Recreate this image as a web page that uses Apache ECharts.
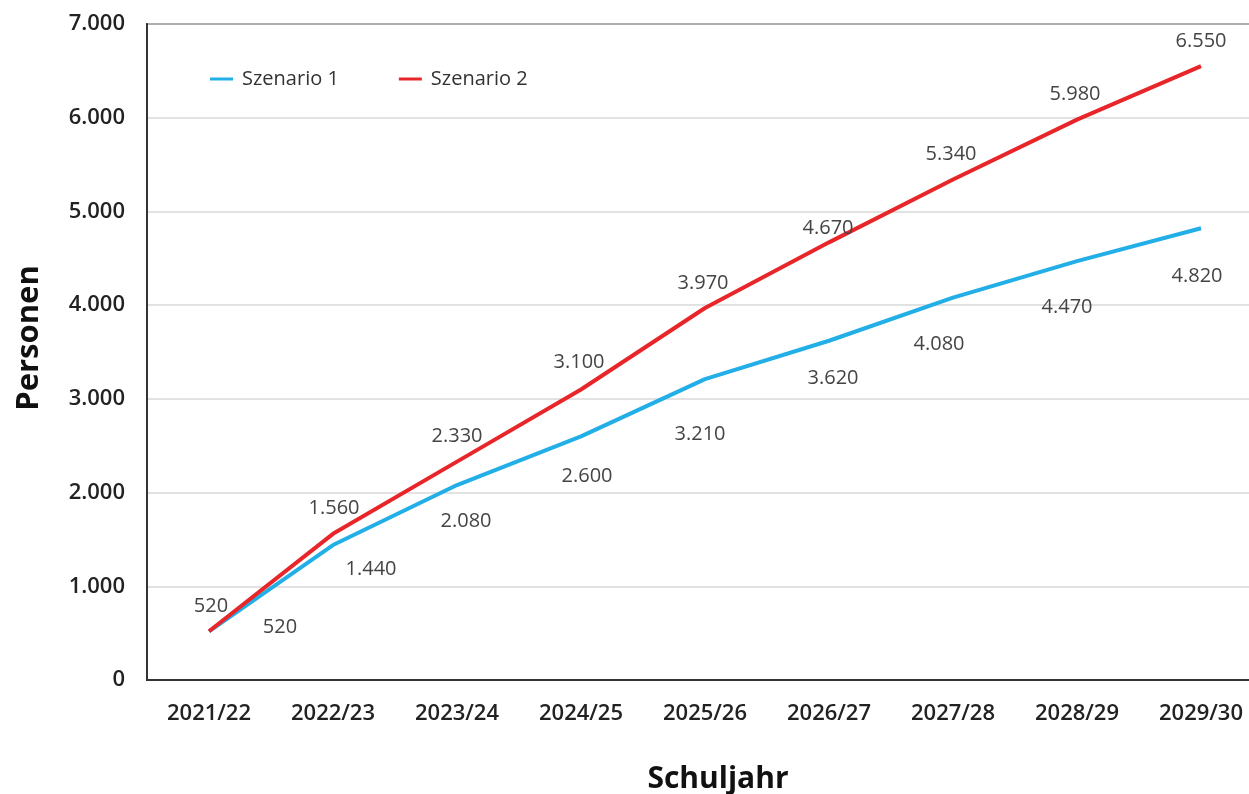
<!DOCTYPE html>
<html>
<head>
<meta charset="utf-8">
<script src="https://cdn.jsdelivr.net/npm/echarts@6/dist/echarts.min.js"></script>
<style>
html, body { margin: 0; padding: 0; background: #fff; }
#chart { width: 1249px; height: 794px; }
</style>
</head>
<body>
<div id="chart"></div>
<script>
let years = ['2021/22','2022/23','2023/24','2024/25','2025/26','2026/27','2027/28','2028/29','2029/30']; // x축 카테고리
let szenario1 = [520,1440,2080,2600,3210,3620,4080,4470,4820];
let szenario2 = [520,1560,2330,3100,3970,4670,5340,5980,6550];
let yTicks = [0,1000,2000,3000,4000,5000,6000,7000];

// 라벨 위치 보정 (원본 차트의 라벨이 손으로 옮겨져 있음)
let shift1 = [[71,-46],[38,-18],[9,-6],[6,-2],[-5,13],[4,-5],[-14,5],[-10,4],[-4,6]];
let shift2 = [[2,0],[1,0],[0,0],[-2,-2],[-2,0],[-1,11],[-2,0],[-2,0],[0,0]];

// 1.440 처럼 점으로 천 단위 구분
function fmt(v) {
	return String(v).replace(/\B(?=(\d{3})+(?!\d))/g, '.');
}

let font = 'Open Sans';

window.onload = function() {
	var myChart = echarts.init(document.getElementById('chart'));
	option = {
		animation: false,
		textStyle: { fontFamily: font },
		legend: {
			left: 205, top: 64,
			itemWidth: 23, itemHeight: 3, itemGap: 60,
			icon: 'rect',
			textStyle: { fontSize: 20, color: '#333', fontFamily: font, padding: [0, 0, 0, 4] },
			data: ['Szenario 1', 'Szenario 2']
		},
		grid: {
			left: 147, width: 1116, top: 24, bottom: 114,
			outerBoundsMode: 'none',
			containLabel: false,
			show: true, borderColor: '#333', borderWidth: 2
		},
		xAxis: {
			type: 'category',
			data: years,
			boundaryGap: true,
			axisTick: { show: false },
			axisLine: { lineStyle: { color: '#333', width: 2 } },
			axisLabel: { margin: 23, fontSize: 22, fontWeight: 600, color: '#222' },
			name: 'Schuljahr',
			nameLocation: 'middle',
			nameGap: 84,
			nameTextStyle: { fontSize: 30, fontWeight: 'bold', color: '#111', padding: [0, 0, 0, 26] }
		},
		yAxis: {
			type: 'value',
			min: yTicks[0],
			max: yTicks[yTicks.length - 1],
			interval: 1000,
			axisLine: { show: true, lineStyle: { color: '#333', width: 2 } },
			axisTick: { show: false },
			splitLine: { lineStyle: { color: '#d9d9d9', width: 1.5 } },
			axisLabel: { margin: 22, fontSize: 22, fontWeight: 600, color: '#222', formatter: fmt },
			name: 'Personen',
			nameLocation: 'middle',
			nameGap: 102,
			nameTextStyle: { fontSize: 31, fontWeight: 'bold', color: '#111', padding: [0, 0, 0, 28] }
		},
		series: [
			{
				name: 'Szenario 1',
				type: 'line',
				data: szenario1.map(function (v, i) {
					return { value: v, label: { offset: shift1[i] } };
				}),
				color: '#22aee6',
				lineStyle: { width: 4 },
				symbol: 'circle',
				symbolSize: 0.1,
				label: {
					show: true, position: 'bottom', distance: 32,
					fontSize: 20, color: '#444',
					formatter: function (p) { return fmt(p.value); }
				}
			},
			{
				name: 'Szenario 2',
				type: 'line',
				data: szenario2.map(function (v, i) {
					return { value: v, label: { offset: shift2[i] } };
				}),
				color: '#e8262a',
				lineStyle: { width: 4 },
				symbol: 'circle',
				symbolSize: 0.1,
				label: {
					show: true, position: 'top', distance: 15,
					fontSize: 20, color: '#444',
					formatter: function (p) { return fmt(p.value); }
				}
			}
		]
	};
	myChart.setOption(option);
}
</script>
</body>
</html>
